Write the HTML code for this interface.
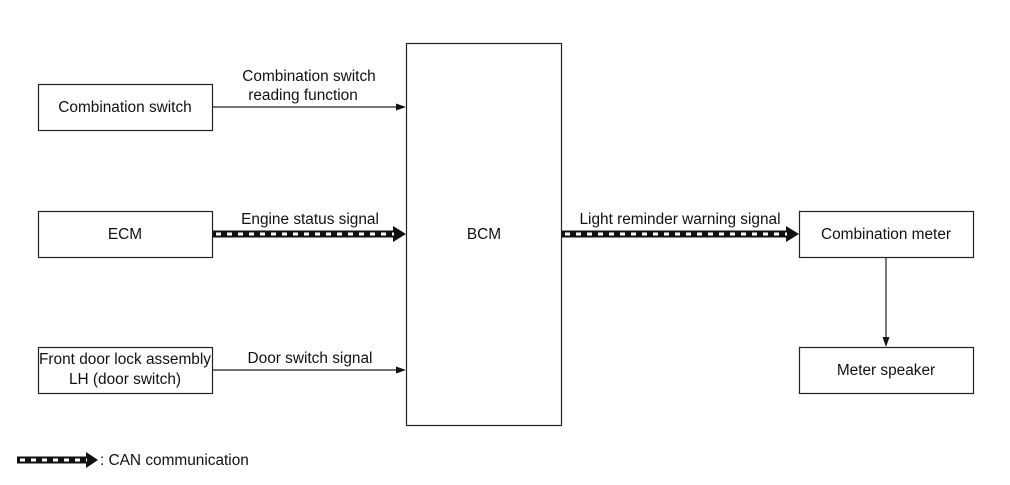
<!DOCTYPE html>
<html><head><style>body{margin:0;background:#fff}svg{display:block}text{font-family:"Liberation Sans",sans-serif;font-size:15.4px;fill:#111}</style></head><body>
<svg width="1010" height="485" xmlns="http://www.w3.org/2000/svg">
<g fill="none" stroke="#222" stroke-width="1.2">
<rect x="38.5" y="84.5" width="174" height="46"/>
<rect x="38.5" y="211.5" width="174" height="46"/>
<rect x="38.5" y="347.5" width="174" height="46"/>
<rect x="406.5" y="43.5" width="155" height="382"/>
<rect x="799.5" y="211.5" width="174" height="46"/>
<rect x="799.5" y="347.5" width="174" height="46"/>
<line x1="213" y1="107" x2="398" y2="107"/>
<line x1="213" y1="370" x2="398" y2="370"/>
<line x1="886" y1="258" x2="886" y2="339"/>
</g>
<g fill="#111">
<polygon points="406,107 396,103.5 396,110.5"/>
<polygon points="406,370 396,366.5 396,373.5"/>
<polygon points="886,347 882.5,337 889.5,337"/>
<polygon points="406,234 393,226 393,242"/>
<polygon points="799,234 786,226 786,242"/>
<polygon points="98,460 86,452 86,468"/>
</g>
<g>
<line x1="213" y1="234" x2="394" y2="234" stroke="#111" stroke-width="7"/>
<line x1="216" y1="234" x2="394" y2="234" stroke="#fff" stroke-width="3" stroke-dasharray="5 6"/>
<line x1="562" y1="234" x2="787" y2="234" stroke="#111" stroke-width="7"/>
<line x1="565" y1="234" x2="787" y2="234" stroke="#fff" stroke-width="3" stroke-dasharray="5 6"/>
<line x1="17" y1="460" x2="87" y2="460" stroke="#111" stroke-width="7"/>
<line x1="20" y1="460" x2="87" y2="460" stroke="#fff" stroke-width="3" stroke-dasharray="5 6"/>
</g>
<g text-anchor="middle">
<text x="125" y="112">Combination switch</text>
<text x="125" y="239">ECM</text>
<text x="125" y="364">Front door lock assembly</text>
<text x="125" y="384">LH (door switch)</text>
<text x="484" y="239">BCM</text>
<text x="886" y="239">Combination meter</text>
<text x="886" y="375">Meter speaker</text>
<text x="309" y="81">Combination switch</text>
<text x="303" y="100">reading function</text>
<text x="310" y="224">Engine status signal</text>
<text x="680" y="224">Light reminder warning signal</text>
<text x="310" y="363">Door switch signal</text>
</g>
<text x="100" y="465">: CAN communication</text>
</svg>
</body></html>
